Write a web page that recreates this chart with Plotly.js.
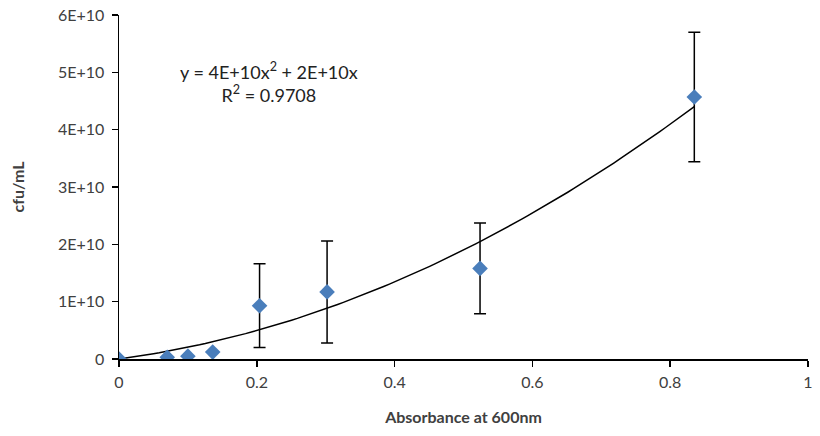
<!DOCTYPE html>
<html>
<head>
<meta charset="utf-8">
<script src="https://cdn.plot.ly/plotly-3.0.1.min.js"></script>
<style>html,body{margin:0;padding:0;background:#fff;}#chart{width:820px;height:436px;}</style>
</head>
<body>
<div id="chart"></div>
<script>
// Data
const absorbance = [0, 0.07, 0.10, 0.136, 0.204, 0.302, 0.524, 0.835];
const cfuPerMl   = [0, 0.03e10, 0.05e10, 0.12e10, 0.93e10, 1.17e10, 1.58e10, 4.57e10];
const cfuError   = [0, 0, 0, 0, 0.73e10, 0.89e10, 0.79e10, 1.13e10];

// Polynomial trendline (intercept 0), coefficients as drawn
const trendA = 4.4e10;
const trendB = 1.6e10;

const yTickVals = [0, 1e10, 2e10, 3e10, 4e10, 5e10, 6e10];
const yTickText = ["0", "1E+10", "2E+10", "3E+10", "4E+10", "5E+10", "6E+10"];
const xTickVals = [0, 0.2, 0.4, 0.6, 0.8, 1];
const xTickText = ["0", "0.2", "0.4", "0.6", "0.8", "1"];

const equationText = "y = 4E+10x<sup>2</sup> + 2E+10x<br>R<sup>2</sup> = 0.9708";

// trendline sampled across the data range
const xMin = Math.min(...absorbance), xMax = Math.max(...absorbance);
const trendX = [], trendY = [];
for (let i = 0; i <= 100; i++) {
  const x = xMin + (xMax - xMin) * i / 100;
  trendX.push(x);
  trendY.push(trendA * x * x + trendB * x);
}

const font = "Lato, 'Open Sans', sans-serif";

const traces = [
  {
    x: trendX, y: trendY, type: "scatter", mode: "lines",
    line: {color: "#000000", width: 1.5},
    hoverinfo: "skip", showlegend: false
  },
  {
    x: absorbance, y: cfuPerMl, type: "scatter", mode: "markers",
    marker: {symbol: "diamond", size: 12, color: "#4A7EBB"},
    error_y: {type: "data", array: cfuError, visible: true, color: "#000000", thickness: 1.5, width: 6},
    showlegend: false
  }
];

const layout = {
  width: 820, height: 436,
  margin: {l: 119, r: 12, t: 15, b: 77},
  paper_bgcolor: "#ffffff", plot_bgcolor: "#ffffff",
  font: {family: font, size: 14, color: "#404040"},
  showlegend: false,
  xaxis: {
    range: [0, 1], tickvals: xTickVals, ticktext: xTickText,
    showgrid: false, zeroline: false, showline: true, linecolor: "#000000", linewidth: 1.5,
    ticks: "outside", ticklen: 6, tickcolor: "#000000", tickwidth: 1.5,
    ticklabelstandoff: 2,
    tickfont: {family: font, size: 16, color: "#404040"},
    title: {text: "<b>Absorbance at 600nm</b>", font: {family: font, size: 16, color: "#404040"}, standoff: 22}
  },
  yaxis: {
    range: [0, 6e10], tickvals: yTickVals, ticktext: yTickText,
    showgrid: false, zeroline: false, showline: true, linecolor: "#000000", linewidth: 1.5,
    ticks: "outside", ticklen: 6, tickcolor: "#000000", tickwidth: 1.5,
    ticklabelstandoff: 4,
    tickfont: {family: font, size: 16, color: "#404040"},
    title: {text: "<b>cfu/mL</b>", font: {family: font, size: 16, color: "#404040"}, standoff: 29}
  },
  annotations: [{
    text: equationText, x: 0.218, y: 4.82e10, xref: "x", yref: "y",
    showarrow: false, align: "center", xanchor: "center", yanchor: "middle",
    font: {family: font, size: 18, color: "#222222"}
  }]
};

Plotly.newPlot("chart", traces, layout, {displayModeBar: false, staticPlot: true});
</script>
</body>
</html>
